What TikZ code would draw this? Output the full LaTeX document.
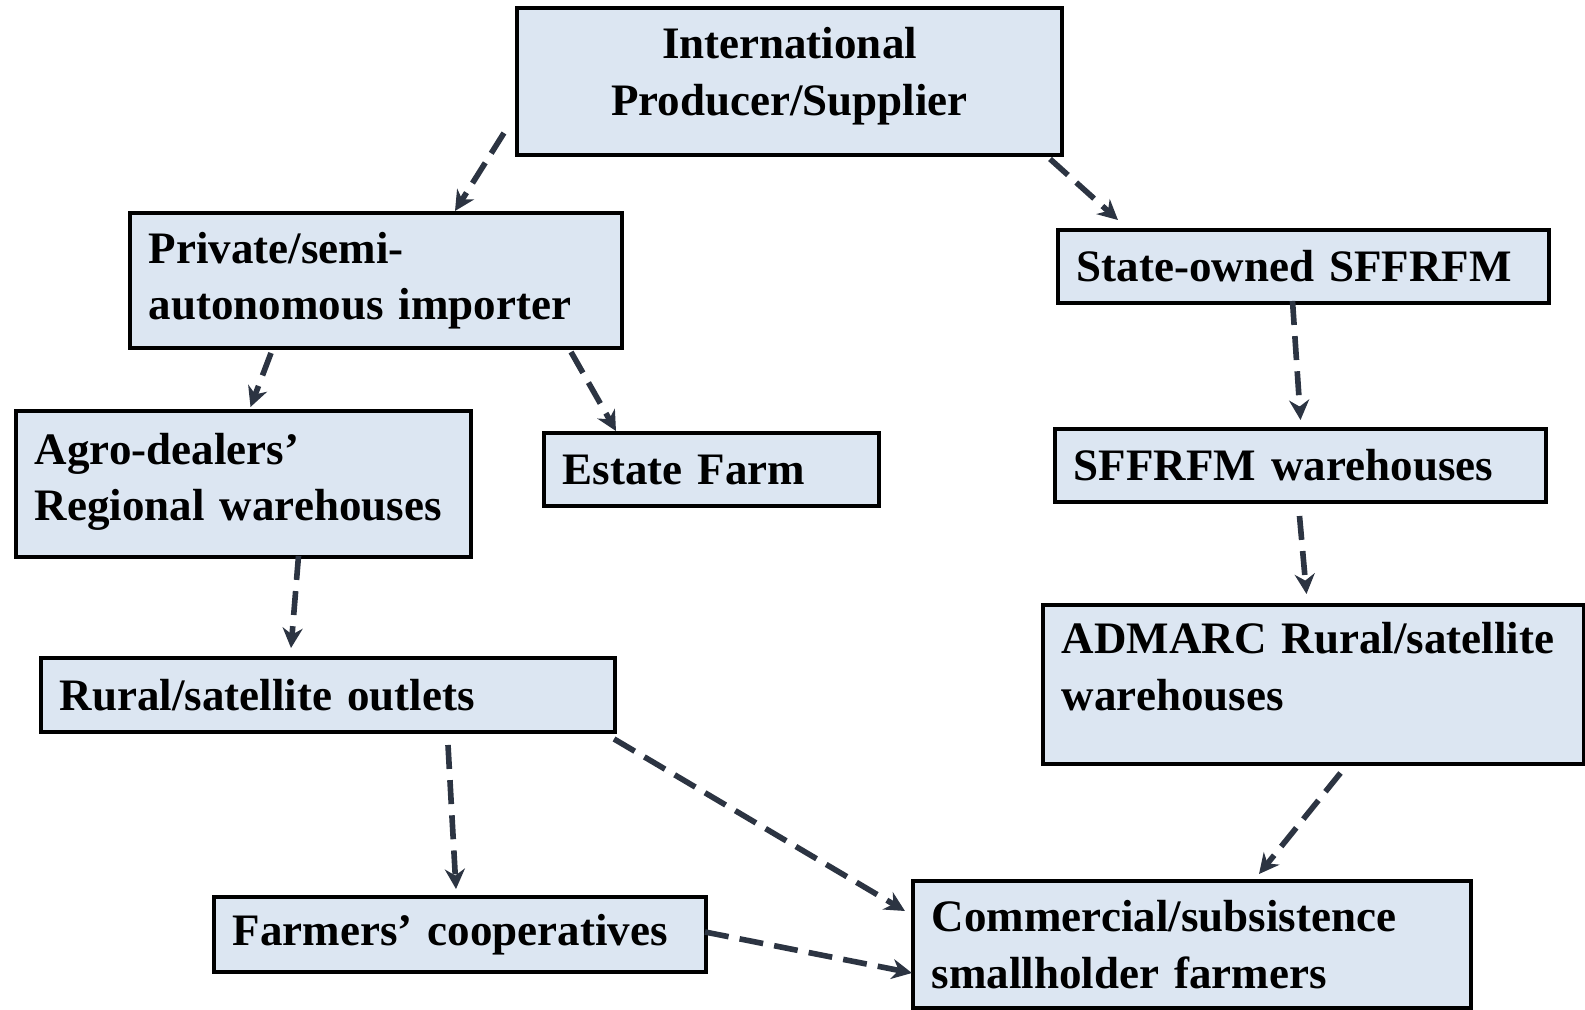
\documentclass[tikz,border=0pt]{standalone}
\usepackage{fontspec}
\setmainfont{Liberation Serif}
\usepackage{xcolor}
\usetikzlibrary{arrows.meta}

\definecolor{boxblue}{RGB}{220,230,242}
\definecolor{linkgray}{RGB}{44,52,66}

\tikzset{
  box/.style={draw=black, line width=2.8pt, fill=boxblue, inner xsep=0.475cm, inner ysep=0pt,
    align=left, font=\bfseries\fontsize{32}{40}\selectfont},
  link/.style={-{Stealth[length=0.5cm,width=0.5cm]}, draw=linkgray, line width=4pt,
    dash pattern=on 0.6cm off 0.28cm}
}

\begin{document}
\begin{tikzpicture}[x=0.025cm, y=-0.025cm]
        \useasboundingbox (0,0) rectangle (1585,1010);

        \node (intl) [box, align=center, text width=12.675cm, minimum height=3.675cm] at (789.5,81.5)
            {International\\Producer/Supplier\rule[-0.5cm]{0pt}{0pt}};

        \node (priv) [box, text width=11.35cm, minimum height=3.375cm] at (376,280.5)
            {Private/semi-\\autonomous importer};
        \node (state) [box, text width=11.325cm, minimum height=1.825cm] at (1303.5,266.5)
            {State-owned SFFRFM};

        \node (agro) [box, text width=10.425cm, minimum height=3.65cm] at (243.5,484)
            {Agro-dealers'\\Regional warehouses\rule[-0.35cm]{0pt}{0pt}};
        \node (estate) [box, text width=7.425cm, minimum height=1.825cm] at (711.5,469.5)
            {Estate Farm};
        \node (sffrfm) [box, text width=11.325cm, minimum height=1.825cm] at (1300.5,465.5)
            {SFFRFM warehouses};

        \node (admarc) [box, text width=12.575cm, minimum height=3.975cm] at (1313.5,684.5)
            {ADMARC Rural/satellite\\warehouses\rule[-0.9cm]{0pt}{0pt}};
        \node (rural) [box, text width=13.4cm, minimum height=1.85cm] at (328,695)
            {Rural/satellite outlets};

        \node (coop) [box, text width=11.35cm, minimum height=1.875cm] at (460,934.5)
            {Farmers' cooperatives};
        \node (comm) [box, text width=13cm, minimum height=3.175cm] at (1192,944.5)
            {Commercial/subsistence\\smallholder farmers};

        % importer side
        \draw[link] ([shift={(-11,-24)}]intl.south west) -- ([shift={(79,0)}]priv.north);
        \draw[link] ([shift={(-105,3)}]priv.south) -- ([shift={(7,-2)}]agro.north);
        \draw[link] ([shift={(-53,2)}]priv.south east) -- ([shift={(74,0)}]estate.north west);
        \draw[link] ([shift={(55,-3)}]agro.south) -- ([shift={(-37,-8)}]rural.north);
        \draw[link] ([shift={(120,11)}]rural.south) -- ([shift={(-4,-6)}]coop.north);
        \draw[link] ([shift={(-3,5)}]rural.south east) -- ([shift={(-6,-33.5)}]comm.west);
        \draw[link] ([shift={(-3,-2.5)}]coop.east) -- ([shift={(1,28.5)}]comm.west);

        % state side
        \draw[link] ([shift={(-14,2)}]intl.south east) -- ([shift={(62,-8)}]state.north west);
        \draw[link] ([shift={(-11,-4)}]state.south) -- ([shift={(0,-7)}]sffrfm.north);
        \draw[link] ([shift={(-1,12)}]sffrfm.south) -- ([shift={(-7,-9)}]admarc.north);
        \draw[link] ([shift={(27,7)}]admarc.south) -- ([shift={(67,-5)}]comm.north);
\end{tikzpicture}
\end{document}
